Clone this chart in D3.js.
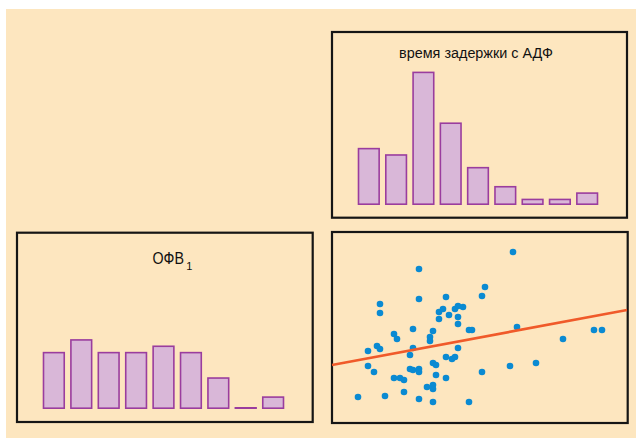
<!DOCTYPE html>
<html>
<head>
<meta charset="utf-8">
<script src="https://cdn.jsdelivr.net/npm/d3@7"></script>
<style>
  html, body { margin: 0; padding: 0; background: #ffffff; }
</style>
</head>
<body>
<div id="chart"></div>
<script>
// counts per bin
const delayBins = [1, 2, 3, 4, 5, 6, 7, 8, 9];
const delayCounts = [9, 8, 21, 13, 6, 3, 1, 1, 2];
const fevBins = [1, 2, 3, 4, 5, 6, 7, 8, 9];
const fevCounts = [9, 11, 9, 9, 10, 9, 5, 0, 2];

// scatter: x = ОФВ1, y = время задержки (arbitrary units)
const scatterX = [26, 53, 87, 101, 137, 72, 95, 101, 101, 62, 68, 72, 104, 114, 150, 42,
  36, 78, 81, 87, 87, 101, 104, 114, 120, 123, 78, 36, 45, 48, 81, 126, 62, 65, 81, 98,
  98, 101, 137, 140, 126, 107, 117, 126, 107, 111, 123, 126, 131, 114, 87, 48, 48, 87,
  150, 153, 181, 185, 178, 204, 231, 262, 270];
const scatterY = [25, 26, 23, 20, 20, 30, 35, 37, 33, 44, 44, 42, 47, 44, 50, 50,
  56, 53, 52, 53, 50, 59, 57, 65, 63, 65, 67, 71, 76, 73, 74, 74, 88, 83, 93, 85,
  81, 91, 92, 92, 98, 103, 107, 105, 110, 113, 113, 116, 115, 125, 123, 118, 109, 153,
  126, 135, 170, 95, 56, 59, 83, 92, 92];
const fitX = [0, 295];
const fitY = [57, 112];

const W = 636;
const H = 438;

const colors = {
  bg: "#fde6bf",
  barFill: "#d9b7d8",
  barStroke: "#9a3d9e",
  dot: "#0a8ad2",
  fit: "#f05a2a",
  frame: "#151515",
};

const svg = d3
  .select("#chart")
  .append("svg")
  .attr("width", W)
  .attr("height", H);

svg
  .append("rect")
  .attr("x", 6)
  .attr("y", 9)
  .attr("width", W - 6)
  .attr("height", H - 9)
  .attr("fill", colors.bg);

const frame = (x1, y1, x2, y2) => {
  svg
    .append("rect")
    .attr("x", x1)
    .attr("y", y1)
    .attr("width", x2 - x1)
    .attr("height", y2 - y1)
    .attr("fill", "none")
    .attr("stroke", colors.frame)
    .attr("stroke-width", 2.2);
};

const histogram = (bins, counts, xRange, base) => {
  const x = d3.scaleBand().domain(bins).range(xRange).paddingInner(0.185).paddingOuter(0);
  const y = d3.scaleLinear().domain([0, 21]).range([base, base - 133.4]);
  // an empty bin still shows as a flat line on the base
  const h = (c) => Math.max(0.4, y(0) - y(c) - 1.6);

  svg
    .append("g")
    .selectAll("rect")
    .data(bins)
    .join("rect")
    .attr("x", (d) => x(d) + 0.8)
    .attr("y", (d, i) => y(0) - 0.8 - h(counts[i]))
    .attr("width", x.bandwidth() - 1.6)
    .attr("height", (d, i) => h(counts[i]))
    .attr("fill", colors.barFill)
    .attr("stroke", colors.barStroke)
    .attr("stroke-width", 1.6);
};

const titleFont = "'Liberation Sans Narrow', 'Liberation Sans', Arial, sans-serif";

// squeeze a text horizontally to a given width (the original face is condensed)
const condensed = (str, x, y, width, size, anchor) => {
  const g = svg.append("g");
  const t = g
    .append("text")
    .text(str)
    .attr("text-anchor", anchor)
    .style("font-family", titleFont)
    .style("font-size", size + "px")
    .attr("fill", "#111");
  const k = width / t.node().getComputedTextLength();
  g.attr("transform", `translate(${x},${y}) scale(${k},1)`);
};

// top right: delay histogram
frame(332, 32, 627, 217.7);
histogram(delayBins, delayCounts, [357.7, 598.3], 205);
condensed("время задержки с АДФ", 476, 58, 154, 15.5, "middle");

// bottom left: FEV1 histogram
frame(17, 232.7, 312.7, 422);
histogram(fevBins, fevCounts, [42.7, 284.3], 409);
condensed("ОФВ", 152.5, 264.3, 31.5, 16, "start");
svg
  .append("text")
  .text("1")
  .attr("x", 186.2)
  .attr("y", 269.5)
  .style("font-family", titleFont)
  .style("font-size", "11px")
  .attr("fill", "#111");

// bottom right: scatter with fitted line
frame(332, 232, 627.7, 423);
const sx = d3.scaleLinear().domain([0, 295]).range([332, 627]);
const sy = d3.scaleLinear().domain([0, 190]).range([422, 232]);

svg
  .append("g")
  .selectAll("circle")
  .data(scatterX)
  .join("circle")
  .attr("cx", (d) => sx(d))
  .attr("cy", (d, i) => sy(scatterY[i]))
  .attr("r", 3.3)
  .attr("fill", colors.dot);

const fitLine = d3
  .line()
  .x((d) => sx(d))
  .y((d, i) => sy(fitY[i]));

svg
  .append("path")
  .datum(fitX)
  .attr("d", fitLine)
  .attr("stroke", colors.fit)
  .attr("stroke-width", 2.6)
  .attr("fill", "none");
</script>
</body>
</html>
